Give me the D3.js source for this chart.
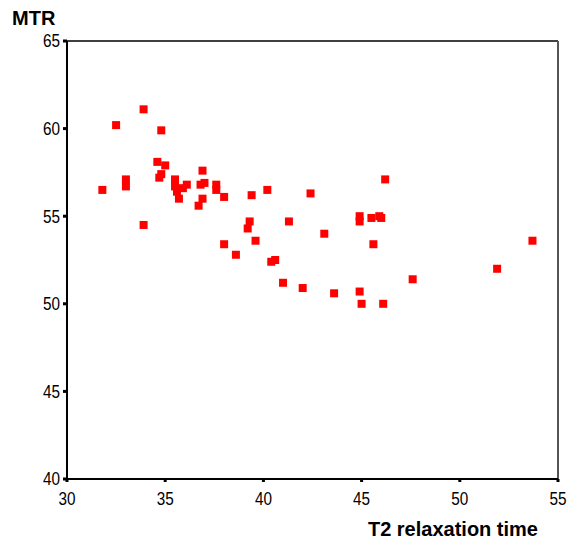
<!DOCTYPE html>
<html>
<head>
<meta charset="utf-8">
<script src="https://cdn.jsdelivr.net/npm/d3@7"></script>
<style>
  body { margin: 0; background: #fff; }
  .tick-label { font-family: "Liberation Sans Narrow", "Arial Narrow", "Liberation Sans", sans-serif; font-size: 18px; fill: #000; }
  .title { font-family: "Liberation Sans", Arial, sans-serif; font-weight: bold; font-size: 20px; fill: #000; }
</style>
</head>
<body>
<svg id="chart"></svg>
<script>
// T2 relaxation time vs MTR
const t2 = [33.9, 32.5, 34.8, 34.6, 35.0, 34.8, 34.7, 33.0, 33.0, 31.8,
    35.5, 35.5, 35.6, 35.7, 35.9, 36.1, 36.9, 37.0, 36.8, 36.9,
    36.7, 37.6, 37.6, 38.0, 39.4, 33.9, 39.3, 39.2, 39.6, 38.0,
    38.6, 46.2, 42.4, 40.2, 41.3, 43.1, 44.9, 44.9, 45.5, 45.9,
    46.0, 45.6, 40.4, 40.6, 41.0, 42.0, 43.6, 44.9, 45.0, 46.1,
    53.7, 51.9, 47.6];
const mtr = [61.1, 60.2, 59.9, 58.1, 57.9, 57.4, 57.2, 57.1, 56.7, 56.5,
    57.1, 56.7, 56.4, 56.0, 56.6, 56.8, 57.6, 56.9, 56.8, 56.0,
    55.6, 56.8, 56.5, 56.1, 56.2, 54.5, 54.7, 54.3, 53.6, 53.4,
    52.8, 57.1, 56.3, 56.5, 54.7, 54.0, 55.0, 54.7, 54.9, 55.0,
    54.9, 53.4, 52.4, 52.5, 51.2, 50.9, 50.6, 50.7, 50.0, 50.0,
    53.6, 52.0, 51.4];
const xTicks = [30, 35, 40, 45, 50, 55];
const yTicks = [40, 45, 50, 55, 60, 65];

const W = 569, H = 539;
const margin = { top: 41, right: 11, bottom: 60, left: 67 };
const w = W - margin.left - margin.right;
const h = H - margin.top - margin.bottom;

const svg = d3.select("#chart").attr("width", W).attr("height", H);
const g = svg.append("g").attr("transform", `translate(${margin.left},${margin.top})`);

const x = d3.scaleLinear().domain([30, 55]).range([0, w]);
const y = d3.scaleLinear().domain([40, 65]).range([h, 0]);

// frame
g.append("line").attr("x1", 0).attr("x2", w).attr("y1", 0).attr("y2", 0)
    .attr("stroke", "#000").attr("stroke-width", 1.5);
g.append("line").attr("x1", w).attr("x2", w).attr("y1", 0).attr("y2", h)
    .attr("stroke", "#555").attr("stroke-width", 2);
g.append("line").attr("x1", 0).attr("x2", 0).attr("y1", 0).attr("y2", h)
    .attr("stroke", "#000").attr("stroke-width", 2);
g.append("line").attr("x1", 0).attr("x2", w).attr("y1", h).attr("y2", h)
    .attr("stroke", "#000").attr("stroke-width", 2);

// ticks
const cond = 0.85; // narrow look for tick numbers
g.selectAll(".ytick").data(yTicks).join("rect")
    .attr("x", -4).attr("y", d => y(d) - 1.5).attr("width", 4).attr("height", 3).attr("fill", "#000");
g.selectAll(".ylab").data(yTicks).join("text")
    .attr("class", "tick-label")
    .attr("transform", d => `translate(-7,${y(d)}) scale(${cond},1)`)
    .attr("dy", "0.35em")
    .attr("text-anchor", "end").text(d => d);

g.selectAll(".xtick").data(xTicks).join("rect")
    .attr("x", d => x(d) - 1.5).attr("y", h).attr("width", 3).attr("height", 3).attr("fill", "#000");
g.selectAll(".xlab").data(xTicks).join("text")
    .attr("class", "tick-label")
    .attr("transform", d => `translate(${x(d)},${h + 26}) scale(${cond},1)`)
    .attr("text-anchor", "middle").text(d => d);

// points
const s = 8;
g.selectAll(".pt").data(t2.map((v, i) => [v, mtr[i]])).join("rect")
    .attr("x", d => x(d[0]) - s / 2).attr("y", d => y(d[1]) - s / 2)
    .attr("width", s).attr("height", s).attr("fill", "#ff0000");

// titles
svg.append("text").attr("class", "title").attr("x", 12).attr("y", 25).text("MTR");
svg.append("text").attr("class", "title").attr("x", 538).attr("y", 536)
    .attr("text-anchor", "end").text("T2 relaxation time");
</script>
</body>
</html>
